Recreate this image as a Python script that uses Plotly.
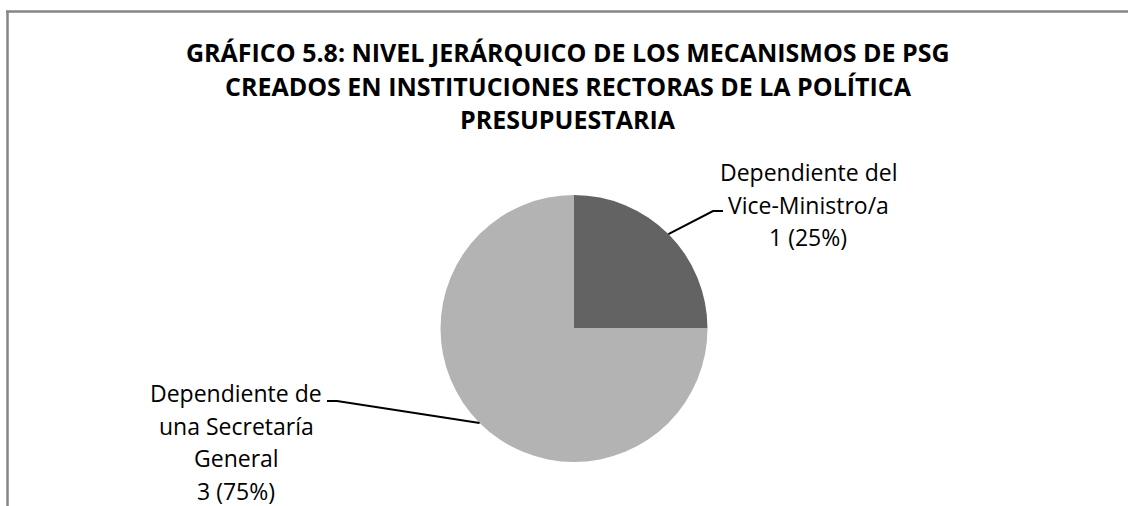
import math
import plotly.graph_objects as go

W, H = 1128, 506

# ---- data ----
categories = ["Dependiente del Vice-Ministro/a", "Dependiente de una Secretaría General"]
values = [1, 3]
label_lines = [["Dependiente del", "Vice-Ministro/a"],
               ["Dependiente de", "una Secretaría", "General"]]
title_lines = ["GRÁFICO 5.8: NIVEL JERÁRQUICO DE LOS MECANISMOS DE PSG",
               "CREADOS EN INSTITUCIONES RECTORAS DE LA POLÍTICA",
               "PRESUPUESTARIA"]
colors = ["#636363", "#b3b3b3"]

# ---- layout geometry (pixels) ----
cx, cy, r = 574, 328.5, 133.5
label_pos = [(808, 172), (236, 393)]        # center x, first-line y
line_gap = 32.7
elbows = [((713, 211), (723, 211)), ((337, 401), (327, 401))]
title_y = [52, 86, 119]
FONT = "Open Sans"


def px(x):
    return x / W


def py(y):
    return 1 - y / H


fig = go.Figure(go.Pie(
    values=values, labels=categories, sort=False, direction="clockwise",
    rotation=0, marker=dict(colors=colors, line=dict(width=0)),
    textinfo="none", hoverinfo="label+value+percent", showlegend=False,
    domain=dict(x=[px(cx - r), px(cx + r)], y=[py(cy + r), py(cy - r)]),
))

annotations = []
for t, y in zip(title_lines, title_y):
    annotations.append(dict(text=f"<b>{t}</b>", x=px(568), y=py(y), xref="paper", yref="paper",
                            xanchor="center", yanchor="middle", showarrow=False,
                            font=dict(family=FONT, size=25, color="#000000")))

total = sum(values)
shapes = []
cum = 0
for i, v in enumerate(values):
    lines = label_lines[i] + [f"{v} ({round(100 * v / total)}%)"]
    lx, ly = label_pos[i]
    for k, t in enumerate(lines):
        annotations.append(dict(text=t, x=px(lx), y=py(ly + k * line_gap), xref="paper", yref="paper",
                                xanchor="center", yanchor="middle", showarrow=False,
                                font=dict(family=FONT, size=23, color="#000000")))
    mid = (cum + v / 2) / total * 2 * math.pi
    cum += v
    ex, ey = cx + r * math.sin(mid), cy - r * math.cos(mid)
    (ax, ay), (bx, by) = elbows[i]
    path = f"M {px(ex)},{py(ey)} L {px(ax)},{py(ay)} L {px(bx)},{py(by)}"
    shapes.append(dict(type="path", path=path, xref="paper", yref="paper",
                       line=dict(color="#000000", width=2)))

# chart frame (left and top edges visible)
shapes.append(dict(type="line", xref="paper", yref="paper", x0=px(7.5), x1=px(7.5), y0=py(11), y1=py(H + 5),
                   line=dict(color="#868686", width=2.5)))
shapes.append(dict(type="line", xref="paper", yref="paper", x0=px(6), x1=px(W + 5), y0=py(11.5), y1=py(11.5),
                   line=dict(color="#868686", width=2.5)))

fig.update_layout(
    width=W, height=H, margin=dict(l=0, r=0, t=0, b=0),
    paper_bgcolor="#ffffff", plot_bgcolor="#ffffff",
    annotations=annotations, shapes=shapes,
)

fig.write_html("out.html", config={"displayModeBar": False},
               post_script="document.body.style.margin='0px';document.body.style.overflow='hidden';")
